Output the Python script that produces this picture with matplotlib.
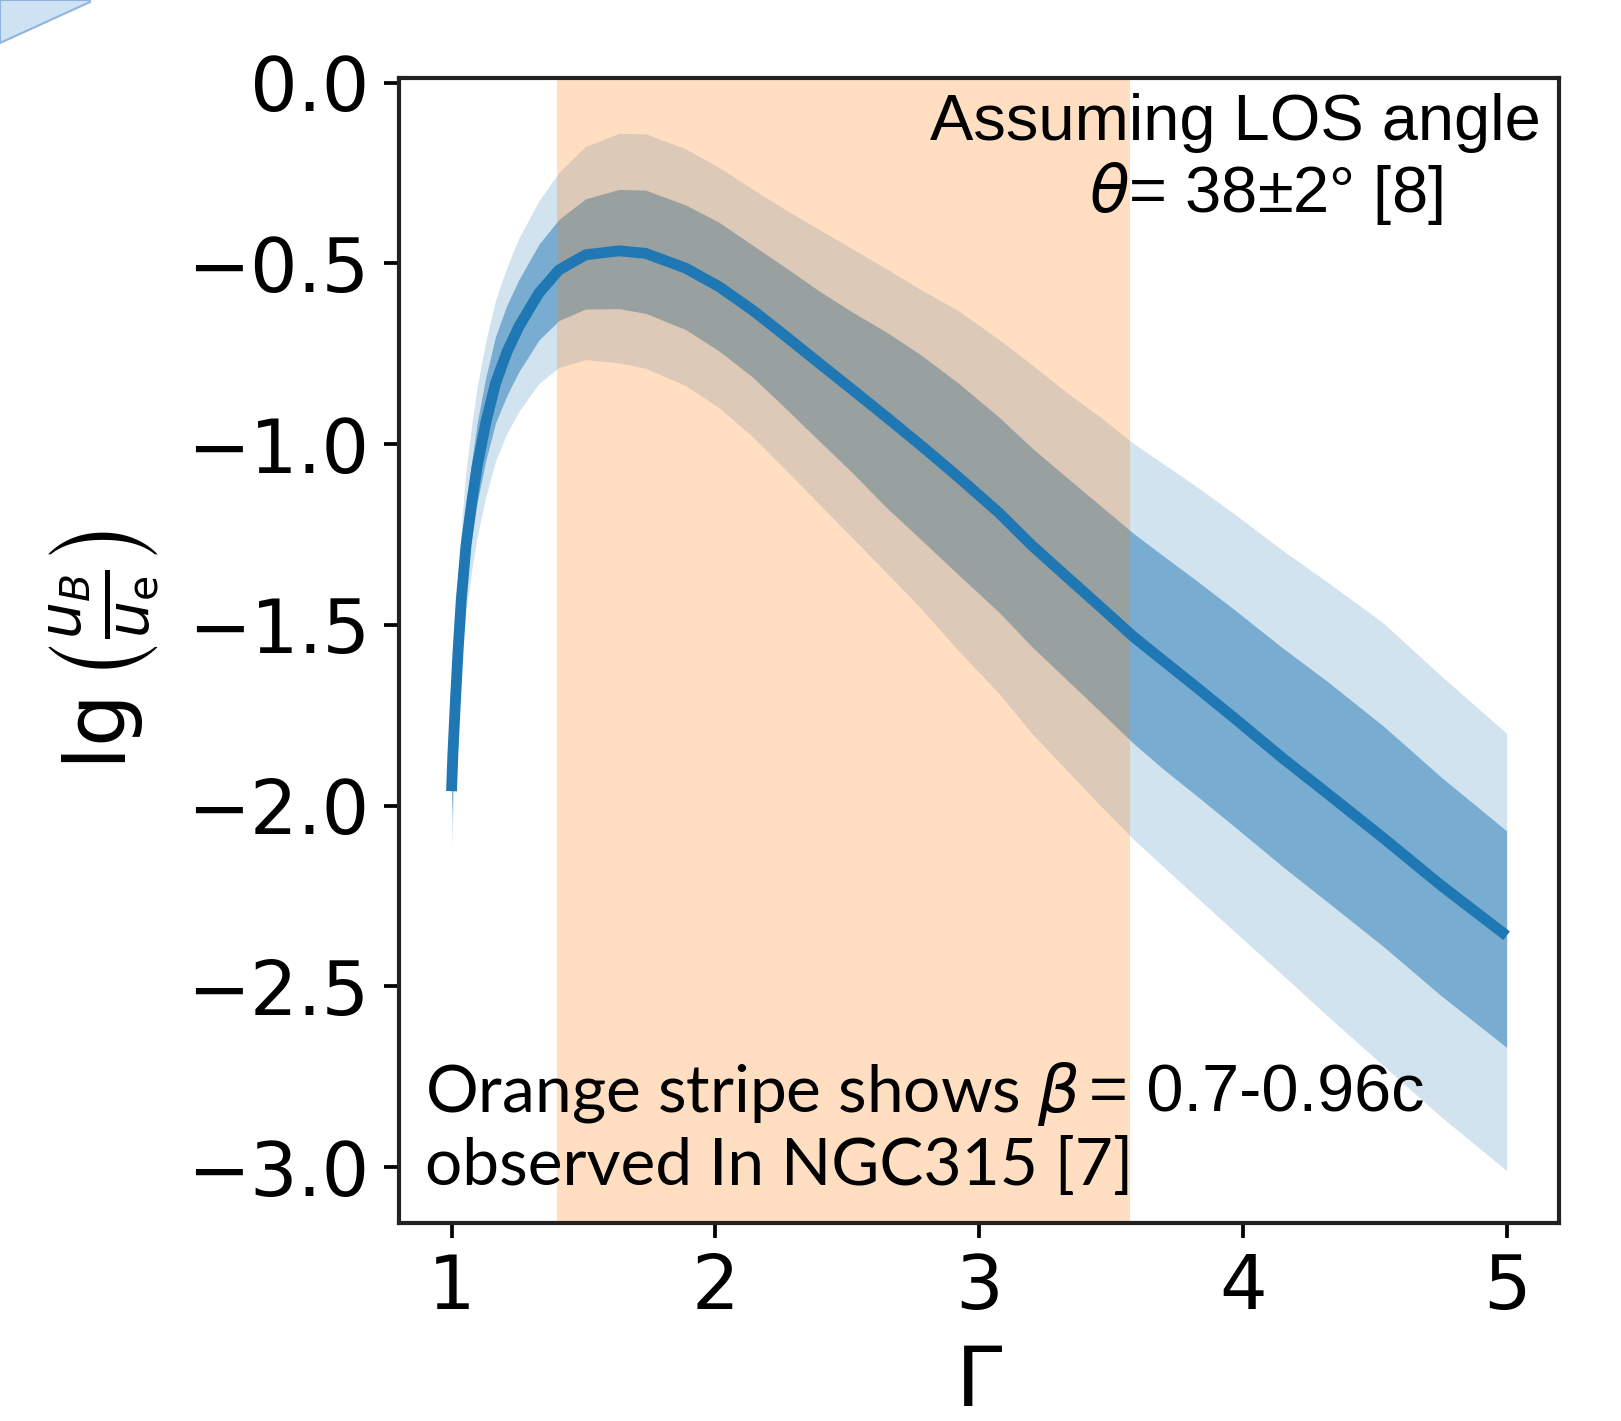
import numpy as np
import matplotlib
matplotlib.use("Agg")
import matplotlib.pyplot as plt
from matplotlib.patches import Polygon

# Lorentz factor grid and lg(u_B/u_e)
gamma = [1.000, 1.005, 1.015, 1.025, 1.037, 1.055, 1.078, 1.097, 1.130, 1.167,
         1.210, 1.255, 1.331, 1.407, 1.508, 1.635, 1.736, 1.888, 2.014, 2.141,
         2.268, 2.394, 2.521, 2.647, 2.774, 2.920, 3.077, 3.200, 3.331, 3.460,
         3.584, 3.700, 3.820, 3.963, 4.153, 4.318, 4.533, 4.750, 5.000]
lg_ratio = [-1.96, -1.86, -1.707, -1.57, -1.43, -1.28, -1.154, -1.062, -0.94, -0.831,
            -0.745, -0.675, -0.582, -0.518, -0.476, -0.465, -0.472, -0.513, -0.564, -0.629,
            -0.702, -0.776, -0.850, -0.924, -1.000, -1.09, -1.191, -1.28, -1.366, -1.45,
            -1.532, -1.60, -1.67, -1.755, -1.87, -1.965, -2.09, -2.22, -2.36]
# band half-widths: 1 sigma up / down, 2 sigma up / down
sig1_up = [0.05, 0.07, 0.09, 0.10, 0.105, 0.11, 0.115, 0.12, 0.125, 0.13,
           0.13, 0.13, 0.135, 0.14, 0.155, 0.17, 0.175, 0.175, 0.178, 0.18,
           0.19, 0.20, 0.215, 0.235, 0.25, 0.26, 0.265, 0.27, 0.275, 0.28,
           0.286, 0.29, 0.295, 0.30, 0.305, 0.31, 0.31, 0.30, 0.29]
sig1_dn = [0.08, 0.08, 0.08, 0.08, 0.085, 0.09, 0.095, 0.10, 0.105, 0.11,
           0.12, 0.125, 0.13, 0.14, 0.15, 0.16, 0.166, 0.17, 0.178, 0.185,
           0.20, 0.215, 0.23, 0.25, 0.26, 0.27, 0.275, 0.28, 0.285, 0.29,
           0.295, 0.30, 0.30, 0.30, 0.30, 0.30, 0.30, 0.305, 0.309]
sig2_up = [0.10, 0.14, 0.17, 0.19, 0.20, 0.21, 0.215, 0.22, 0.225, 0.23,
           0.235, 0.245, 0.255, 0.27, 0.30, 0.325, 0.331, 0.33, 0.33, 0.335,
           0.35, 0.37, 0.39, 0.41, 0.43, 0.46, 0.48, 0.50, 0.51, 0.525,
           0.535, 0.545, 0.555, 0.565, 0.575, 0.585, 0.595, 0.58, 0.56]
sig2_dn = [0.155, 0.16, 0.165, 0.17, 0.175, 0.18, 0.19, 0.195, 0.205, 0.215,
           0.225, 0.235, 0.25, 0.27, 0.29, 0.31, 0.318, 0.325, 0.335, 0.35,
           0.37, 0.39, 0.41, 0.43, 0.45, 0.48, 0.50, 0.52, 0.535, 0.55,
           0.56, 0.57, 0.58, 0.59, 0.60, 0.615, 0.63, 0.64, 0.65]

# observed jet speed range in NGC315 (units of c)
beta_range = [0.7, 0.96]

g = np.array(gamma)
y = np.array(lg_ratio)
g_lo, g_hi = [1 / np.sqrt(1 - b ** 2) for b in beta_range]

fig = plt.figure(figsize=(1621 / 300, 1421 / 300), dpi=300)
ax = fig.add_axes([0.246, 0.1393, 0.716, 0.806])

ax.fill_between(g, y - np.array(sig2_dn), y + np.array(sig2_up),
                color="C0", alpha=0.2, lw=0, zorder=1)
ax.fill_between(g, y - np.array(sig1_dn), y + np.array(sig1_up),
                color="C0", alpha=0.5, lw=0, zorder=1.1)
ax.axvspan(g_lo, g_hi, color="C1", alpha=0.25, lw=0, zorder=1.5)
ax.plot(g, y, color="C0", lw=2.6, zorder=3, solid_capstyle="butt")

ax.set_xlim(0.8, 5.2)
ax.set_ylim(-3.155, 0.014)
ax.set_xticks([1, 2, 3, 4, 5])
ax.set_yticks([0.0, -0.5, -1.0, -1.5, -2.0, -2.5, -3.0])
ax.tick_params(labelsize=18, length=3.5, width=0.9)
for s in ax.spines.values():
    s.set_linewidth(1.0)
    s.set_color("#222222")

ax.set_xlabel(r"$\Gamma$", fontsize=20, labelpad=4)
ax.set_ylabel(r"$\lg\left(\frac{u_B}{u_{\rm e}}\right)$", fontsize=20, labelpad=6)

ax.text(0.984, 0.946, "Assuming LOS angle", transform=ax.transAxes,
        ha="right", va="baseline", family="Liberation Sans", fontsize=15.6)
ax.text(0.747, 0.883, r"$\theta$= 38±2° [8]", transform=ax.transAxes,
        ha="center", va="baseline", family="Liberation Sans", fontsize=15.6)

t1 = ax.text(0.023, 0.097, r"Orange stripe shows $\beta$", transform=ax.transAxes,
             ha="left", va="baseline", family="Lato", fontsize=15.8)
ax.text(0.023, 0.033, "observed In NGC315 [7]", transform=ax.transAxes,
        ha="left", va="baseline", family="Lato", fontsize=15.8)
fig.canvas.draw()
bb = t1.get_window_extent()
x_end = ax.transAxes.inverted().transform((bb.x1, bb.y0))[0]
ax.text(x_end + 0.008, 0.097, "= 0.7-0.96c", transform=ax.transAxes,
        ha="left", va="baseline", family="Liberation Sans", fontsize=16)

# corner of a slide arrow poking into the picture
W, H = 1621, 1421
corner = [(0, 0), (90, 0), (90, 2), (0, 43)]
fig.patches.append(Polygon([(px / W, 1 - py / H) for px, py in corner], closed=True,
                           transform=fig.transFigure, facecolor="#cfe2f3",
                           edgecolor="#8fb4dd", lw=0.5))

fig.savefig("out.png", dpi=300)
